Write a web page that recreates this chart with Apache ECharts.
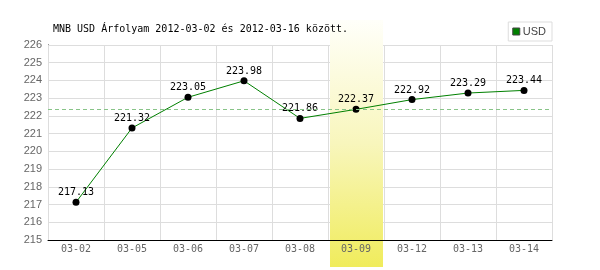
<!DOCTYPE html>
<html><head><meta charset="utf-8">
<script src="https://cdn.jsdelivr.net/npm/echarts@6/dist/echarts.min.js"></script>
<style>html,body{margin:0;padding:0;background:#fff}#c{width:600px;height:270px}</style>
</head><body><div id="c"></div>
<script>
var titleText = 'MNB USD Árfolyam 2012-03-02 és 2012-03-16 között.';
var categories = ['03-02','03-05','03-06','03-07','03-08','03-09','03-12','03-13','03-14'];
var usdValues = [217.13, 221.32, 223.05, 223.98, 221.86, 222.37, 222.92, 223.29, 223.44];
var highlightIndex = 5;
var yMin = 215, yMax = 226, yStep = 1;

var chart = echarts.init(document.getElementById('c'), null, {renderer:'canvas'});
var mono = 'DejaVu Sans Mono';
chart.setOption({
  animation: false,
  backgroundColor: '#fff',
  title: {text: titleText, left: 48, top: 19, textStyle: {fontFamily: mono, fontSize: 10, fontWeight: 'normal', color: '#000'}},
  legend: {
    data: [{name: 'USD', itemStyle: {color: '#008000', borderColor: '#444', borderWidth: 1}}],
    right: 48, top: 22, orient: 'vertical',
    borderColor: '#ddd', borderWidth: 1, padding: [4, 6, 4, 4],
    icon: 'rect', itemWidth: 7, itemHeight: 7, itemGap: 4,
    textStyle: {fontFamily: 'Liberation Sans', fontSize: 11, color: '#444', padding: [0,0,0,-2]}
  },
  grid: {left: 48, right: 48, top: 45, bottom: 30},
  xAxis: {
    type: 'category', data: categories, boundaryGap: true, z: 3,
    axisLine: {lineStyle: {color: '#000', width: 1}},
    axisTick: {show: false},
    axisLabel: {fontFamily: mono, fontSize: 10, color: '#666', margin: 4},
    splitLine: {show: true, lineStyle: {color: '#ddd', width: 1}}
  },
  yAxis: {
    type: 'value', min: yMin, max: yMax, interval: yStep, z: 0,
    axisLine: {show: true, lineStyle: {color: '#000', width: 1}},
    axisTick: {show: false},
    axisLabel: {fontFamily: 'Liberation Sans', fontSize: 11, color: '#666', margin: 6},
    splitLine: {show: true, lineStyle: {color: '#ddd', width: 1}}
  },
  series: [
    {
      name: 'ref', type: 'line', data: [], z: 0.5, silent: true,
      markLine: {
        silent: true, symbol: 'none', label: {show: false},
        lineStyle: {color: '#88c488', type: [4, 3], width: 1},
        data: [{yAxis: usdValues[highlightIndex]}]
      }
    },
    {
      name: 'USD', type: 'line', data: usdValues, z: 4,
      color: '#008000',
      lineStyle: {color: '#008000', width: 1},
      symbol: 'circle', symbolSize: 7,
      itemStyle: {color: '#000', borderWidth: 0},
      label: {show: true, position: 'top', distance: 1, fontFamily: mono, fontSize: 10, color: '#000',
        formatter: function(p){ return p.value.toFixed(2); }}
    }
  ]
});
var cx = chart.convertToPixel({xAxisIndex: 0}, categories[highlightIndex]);
var cx2 = chart.convertToPixel({xAxisIndex: 0}, categories[highlightIndex + 1]);
var bw = cx2 - cx;
chart.setOption({
  graphic: [{
    type: 'rect', z: 1, silent: true,
    shape: {x: cx - bw / 2 + 2, y: 20, width: bw - 3, height: 247},
    style: {fill: new echarts.graphic.LinearGradient(0, 0, 0, 1, [
      {offset: 0, color: '#fffffa'}, {offset: 0.5, color: '#f8f6bc'}, {offset: 1, color: '#f0ec5c'}
    ])}
  }]
});
</script></body></html>
